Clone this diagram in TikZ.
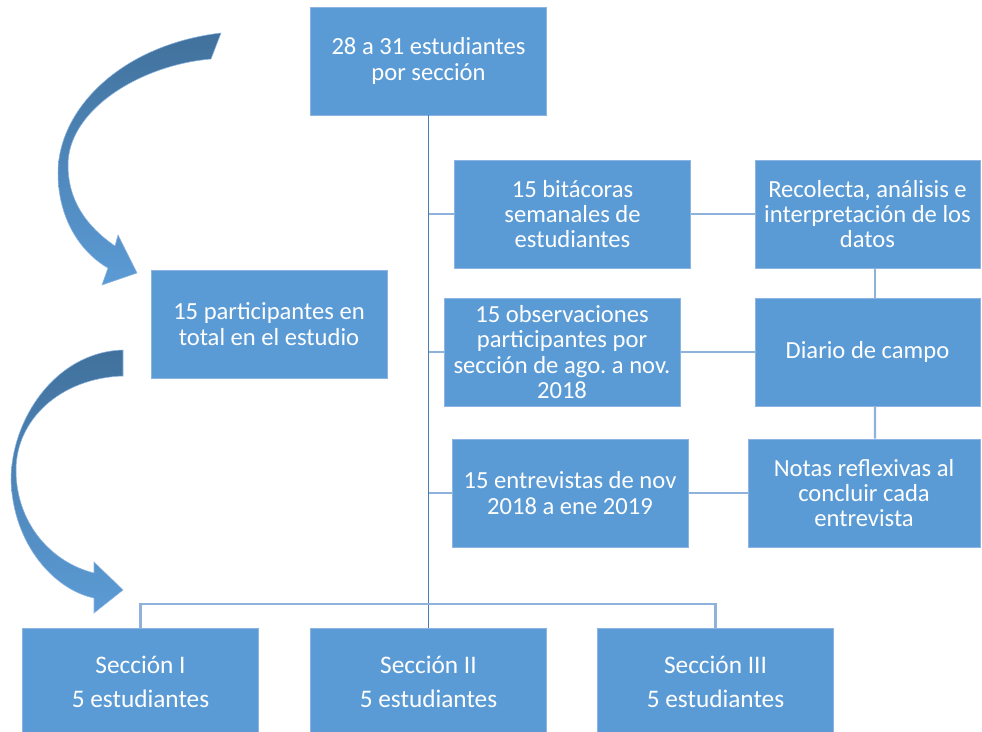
\documentclass[tikz,border=0pt]{standalone}
\usepackage{fontspec}
\setmainfont{Carlito}
\usepackage{tikz}
\definecolor{cajaazul}{HTML}{5B9BD5}
\definecolor{bordeazul}{HTML}{8DB4E2}
\definecolor{troncoazul}{HTML}{4A7DB5}
\definecolor{ramaazul}{HTML}{8FB2DA}
\definecolor{flechaoscura}{HTML}{41719C}
\frenchspacing

\begin{document}
\begin{tikzpicture}[x=0.02cm,y=-0.02cm]
\tikzstyle{caja}=[rectangle,fill=cajaazul,draw=bordeazul,line width=0.5pt,
  text=white,align=center,inner sep=2pt,minimum width=4.72cm,minimum height=2.16cm,
  font=\fontsize{14}{14.4}\selectfont]
\tikzstyle{seccion}=[caja,font=\fontsize{14.4}{19.5}\selectfont]
\tikzstyle{tronco}=[draw=troncoazul,line width=1.1pt]
\tikzstyle{rama}=[draw=ramaazul,line width=1.2pt]
\useasboundingbox (0,0) rectangle (982,732);
\begin{scope}
\clip (0,0) rectangle (982,732);
% flechas curvas
\shade[top color=flechaoscura,bottom color=cajaazul,draw=bordeazul,line width=0.3pt]
  (221,33) .. controls (120,45) and (58,110) .. (58,173)
  .. controls (58,218) and (80,252) .. (108,268)
  -- (102,285) -- (137,273) -- (118,235) -- (115,246)
  .. controls (86,226) and (68,200) .. (68,165)
  .. controls (68,110) and (140,65) .. (211,59) -- cycle;
\shade[top color=flechaoscura,bottom color=cajaazul,draw=bordeazul,line width=0.3pt]
  (123,350) .. controls (55,352) and (11,420) .. (11,480)
  .. controls (13,545) and (55,590) .. (94,598)
  -- (94,613) -- (123,590) -- (94,562) -- (94,573)
  .. controls (50,562) and (16,522) .. (16,470)
  .. controls (16,420) and (60,378) .. (123,376) -- cycle;

\node[caja] (muestra) at (428.5,61) {28 a 31 estudiantes\\por sección};
\node[caja] (partic) at (269,324) {15 participantes en\\total en el estudio};
\node[caja] (bitac) at (572.5,214) {15 bitácoras\\semanales de\\estudiantes};
\node[caja] (observ) at (562,352) {15 observaciones\\participantes por\\sección de ago. a nov.\\2018};
\node[caja] (entrev) at (570,493) {15 entrevistas de nov\\2018 a ene 2019};
\node[caja,minimum width=4.5cm] (recol) at (867.5,214) {Recolecta, análisis e\\interpretación de los\\datos};
\node[caja,minimum width=4.5cm] (diario) at (867.5,352) {Diario de campo};
\node[caja,minimum width=4.64cm] (notas) at (864,493) {Notas reflexivas al\\concluir cada\\entrevista};
\node[seccion] (sec1) at (140.5,682) {Sección I\\5 estudiantes};
\node[seccion] (sec2) at (428.5,682) {Sección II\\5 estudiantes};
\node[seccion] (sec3) at (715.5,682) {Sección III\\5 estudiantes};
\coordinate (barra) at (428.5,604);

% conectores
\draw[tronco] (muestra.south) -- (sec2.north);
\draw[rama] (sec1.north) |- (barra) -| (sec3.north);
\draw[rama] (bitac.west) -- (bitac.west -| muestra.south);
\draw[rama] (observ.west) -- (observ.west -| muestra.south);
\draw[rama] (entrev.west) -- (entrev.west -| muestra.south);
\draw[rama] (bitac) -- (recol);
\draw[rama] (observ) -- (diario);
\draw[rama] (entrev) -- (notas);
\draw[rama] ([xshift=0.15cm]recol.south) -- ([xshift=0.15cm]diario.north);
\draw[rama] ([xshift=0.15cm]diario.south) -- ([xshift=0.22cm]notas.north);
\end{scope}
\end{tikzpicture}
\end{document}
